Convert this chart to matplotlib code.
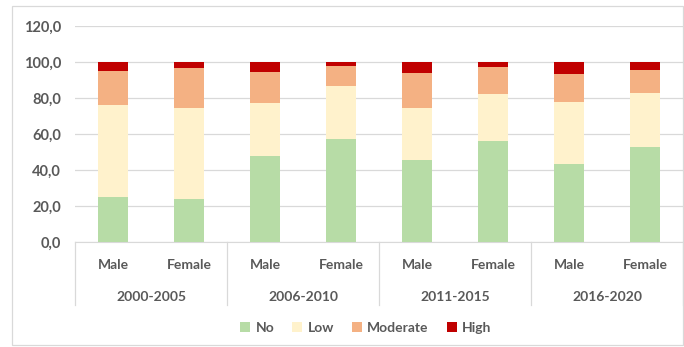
import matplotlib.pyplot as plt
import numpy as np
from matplotlib.patches import Rectangle

plt.rcParams['font.family'] = ['Lato', 'DejaVu Sans']
plt.rcParams['font.weight'] = 'bold'

# data (percent)
periods = ["2000-2005", "2006-2010", "2011-2015", "2016-2020"]
sexes = ["Male", "Female"]
no_vals = [25.0, 24.0, 48.0, 57.0, 45.5, 56.0, 43.5, 53.0]
low_vals = [51.0, 50.5, 29.5, 29.5, 29.0, 26.5, 34.5, 30.0]
moderate_vals = [19.0, 22.0, 17.0, 11.5, 19.5, 14.5, 15.5, 12.5]
high_vals = [5.0, 3.5, 5.5, 2.0, 6.0, 3.0, 6.5, 4.5]

series = [("No", no_vals, "#b7dca6"),
          ("Low", low_vals, "#fff2cc"),
          ("Moderate", moderate_vals, "#f4b183"),
          ("High", high_vals, "#c00000")]

txt = "#595959"
grid = "#d9d9d9"
fs = 10

fig = plt.figure(figsize=(6.84, 3.47), dpi=100)
ax = fig.add_axes([75 / 684, 105 / 347, 608 / 684, 216 / 347])

x = np.arange(len(no_vals))
bottom = np.zeros(len(x))
for name, vals, col in series:
    ax.bar(x, vals, 0.4, bottom=bottom, color=col, label=name, zorder=3)
    bottom += np.array(vals)

ax.set_xlim(-0.5, len(x) - 0.5)
ax.set_ylim(0, 120)
ax.set_yticks(np.arange(0, 121, 20))
ax.set_yticklabels([f"{v:.1f}".replace(".", ",") for v in np.arange(0, 121, 20)])
ax.yaxis.grid(True, color=grid, lw=0.9, zorder=0)
for s in ["top", "right", "left"]:
    ax.spines[s].set_visible(False)
ax.spines["bottom"].set_color(grid)
ax.tick_params(axis="y", length=0, pad=10, labelsize=10.5, labelcolor=txt)
ax.tick_params(axis="x", length=0)

ax.set_xticks(x)
ax.set_xticklabels([])
trans = ax.get_xaxis_transform()
for i in x:
    ax.text(i, -0.105, sexes[i % 2], transform=trans, ha="center", va="center",
            fontsize=fs, color=txt)
for g, p in enumerate(periods):
    ax.text(2 * g + 0.5, -0.255, p, transform=trans, ha="center", va="center",
            fontsize=fs, color=txt)
for b in [-0.5, 1.5, 3.5, 5.5, 7.5]:
    ax.plot([b, b], [0, -0.29], transform=trans, color=grid, lw=0.9, clip_on=False)

fig.legend(loc="center", bbox_to_anchor=(0.535, 0.055), ncol=4, frameon=False,
           fontsize=fs, labelcolor=txt, handlelength=0.7, handleheight=0.7,
           handletextpad=0.4, columnspacing=1.3)

fig.patches.append(Rectangle((12 / 684, 2 / 347), 671 / 684, 339 / 347,
                             transform=fig.transFigure, fill=False,
                             edgecolor=grid, lw=0.9))

fig.savefig("out.png", dpi=100)
